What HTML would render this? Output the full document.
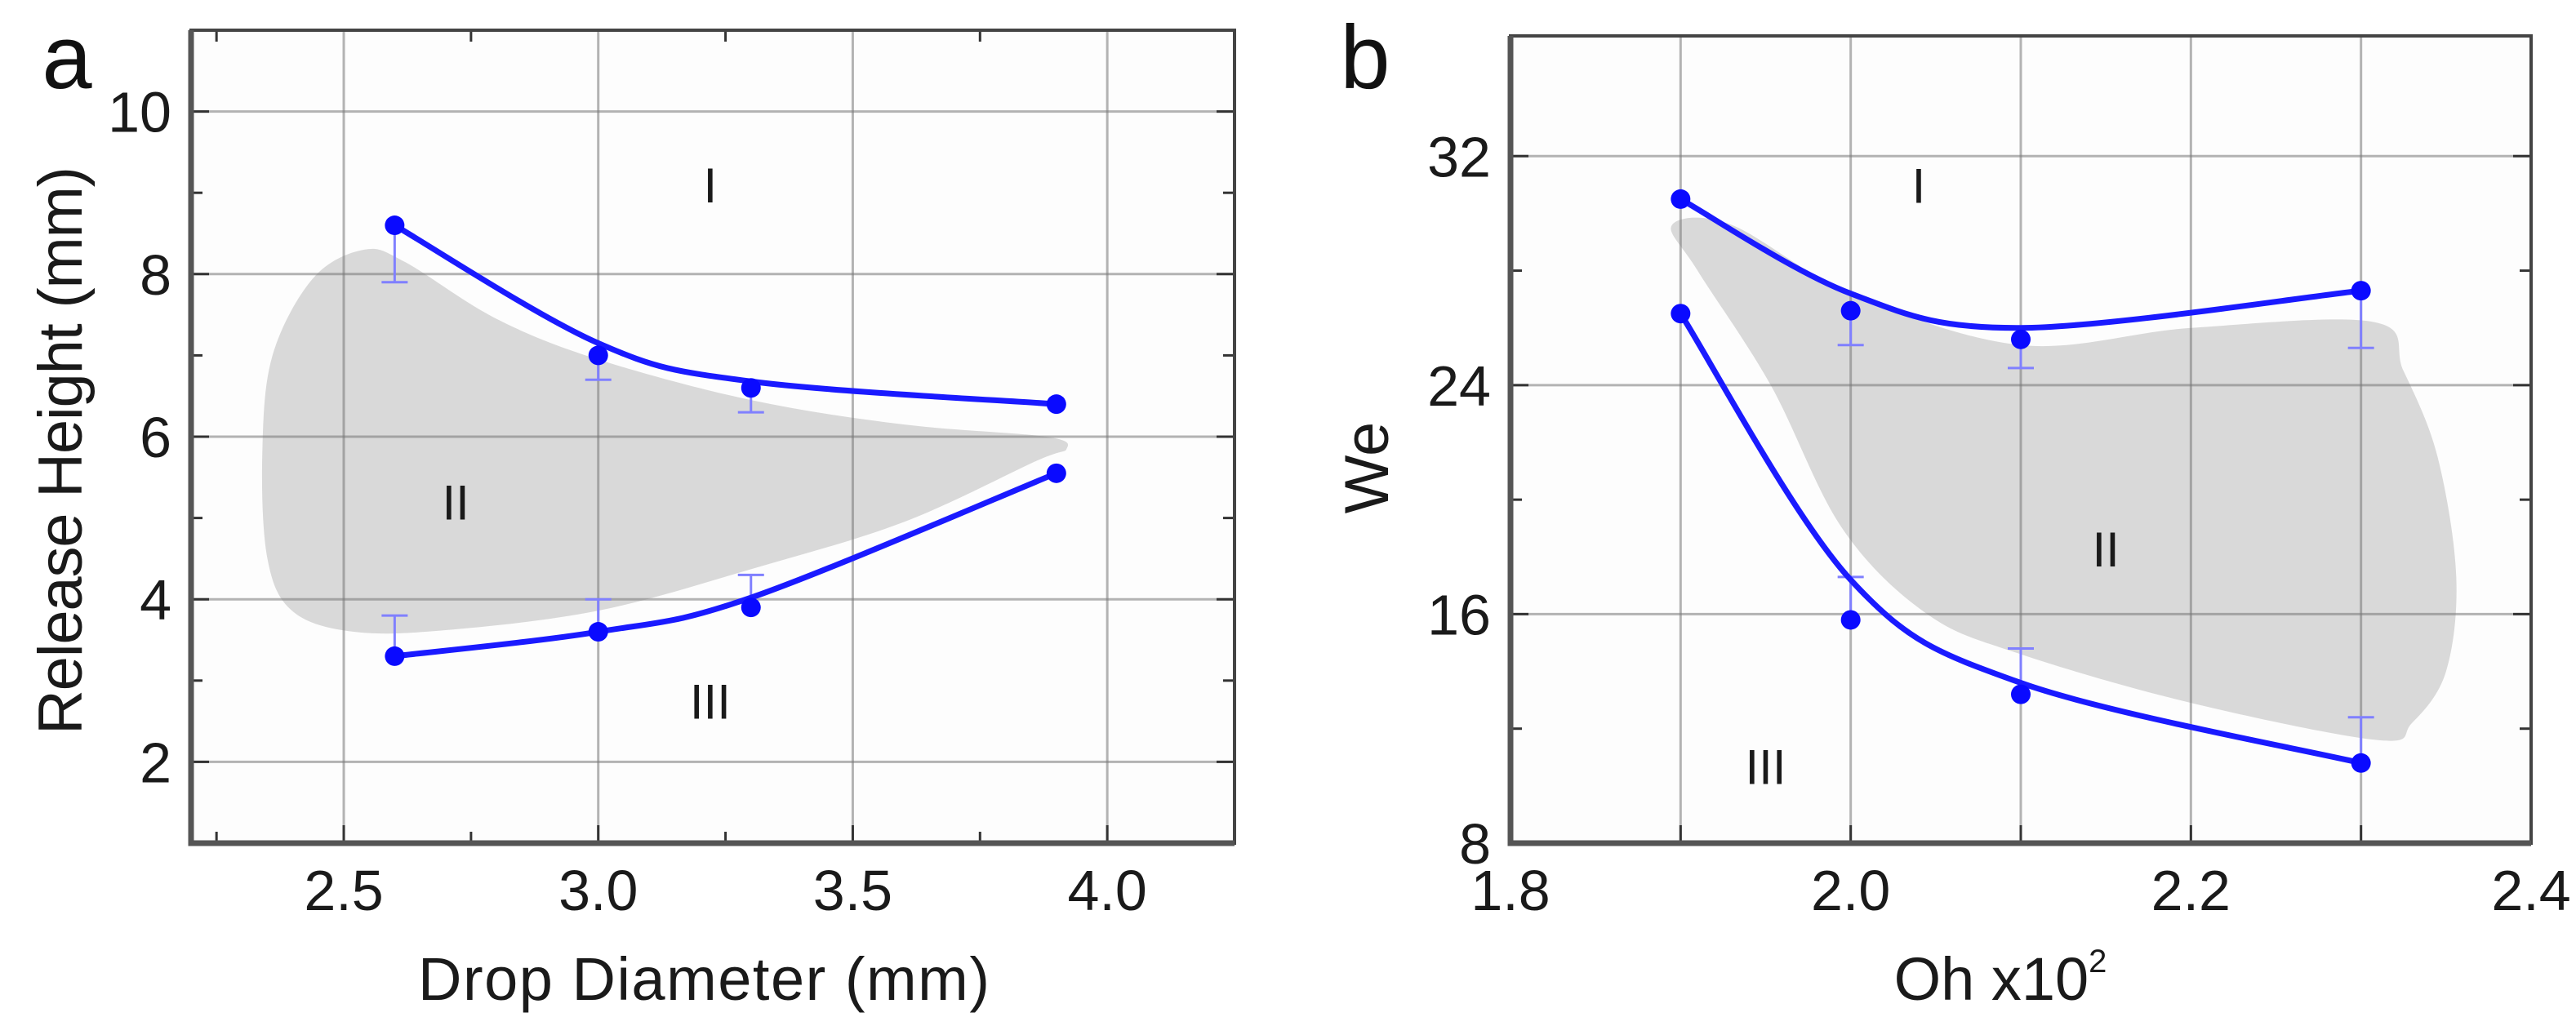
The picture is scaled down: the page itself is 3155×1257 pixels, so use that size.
<!DOCTYPE html>
<html><head><meta charset="utf-8"><style>
html,body{margin:0;padding:0;background:#fff;}
svg{display:block;font-family:"Liberation Sans",Arial,sans-serif;}
</style></head><body>
<svg id="fig" width="3155" height="1257" viewBox="0 0 3155 1257" xmlns="http://www.w3.org/2000/svg">
<g id="pa"></g>
<g id="pb"></g>
</svg>
<script>
// Panel a data
const aXTicks = [2.5, 3.0, 3.5, 4.0];
const aXTickLabels = ["2.5", "3.0", "3.5", "4.0"];
const aYTicks = [2, 4, 6, 8, 10];
const aYTickLabels = ["2", "4", "6", "8", "10"];
const aUpperX = [2.6, 3.0, 3.3, 3.9];
const aUpperY = [8.6, 7.0, 6.6, 6.4];
const aUpperFitY = [8.6, 7.15, 6.68, 6.4];
const aUpperErrLow = [7.9, 6.7, 6.3, 6.4];
const aLowerX = [2.6, 3.0, 3.3, 3.9];
const aLowerY = [3.3, 3.6, 3.9, 5.55];
const aLowerFitY = [3.3, 3.6, 4.02, 5.55];
const aLowerErrHigh = [3.8, 4.0, 4.3, 5.55];
const aRegionX = [2.54, 2.62, 2.8, 3.0, 3.3, 3.6, 3.88, 3.92, 3.86, 3.6, 3.3, 3.0, 2.7, 2.52, 2.4, 2.35, 2.34, 2.36, 2.44];
const aRegionY = [8.3, 8.15, 7.45, 6.95, 6.45, 6.15, 6.0, 5.85, 5.7, 4.95, 4.37, 3.86, 3.62, 3.6, 3.85, 4.5, 5.8, 7.0, 7.95];

// Panel b data
const bXTicks = [1.8, 2.0, 2.2, 2.4];
const bXTickLabels = ["1.8", "2.0", "2.2", "2.4"];
const bYTicks = [8, 16, 24, 32];
const bYTickLabels = ["8", "16", "24", "32"];
const bUpperX = [1.9, 2.0, 2.1, 2.3];
const bUpperY = [30.5, 26.6, 25.6, 27.3];
const bUpperFitY = [30.5, 27.2, 26.0, 27.3];
const bUpperErrLow = [30.5, 25.4, 24.6, 25.3];
const bLowerX = [1.9, 2.0, 2.1, 2.3];
const bLowerY = [26.5, 15.8, 13.2, 10.8];
const bLowerFitY = [26.5, 17.2, 13.6, 10.8];
const bLowerErrHigh = [26.5, 17.3, 14.8, 12.4];
const bRegionX = [1.895, 1.93, 2.0, 2.1, 2.2, 2.308, 2.325, 2.345, 2.356, 2.35, 2.33, 2.31, 2.2, 2.1, 2.045, 1.995, 1.953, 1.91];
const bRegionY = [29.6, 29.6, 27.2, 25.4, 26.0, 26.2, 24.5, 21.5, 17.3, 14.0, 12.2, 11.6, 12.9, 14.6, 16.0, 19.0, 24.0, 28.0];

const NS = "http://www.w3.org/2000/svg";
function mk(parent, tag, attrs, text) {
  const e = document.createElementNS(NS, tag);
  for (const k in attrs) e.setAttribute(k, attrs[k]);
  if (text !== undefined) e.textContent = text;
  parent.appendChild(e);
  return e;
}
function catmull(pts, closed) {
  const n = pts.length;
  let d = "M" + pts[0][0] + "," + pts[0][1];
  const last = closed ? n : n - 1;
  for (let i = 0; i < last; i++) {
    const p0 = pts[closed ? (i - 1 + n) % n : Math.max(i - 1, 0)];
    const p1 = pts[i];
    const p2 = pts[(i + 1) % n];
    const p3 = pts[closed ? (i + 2) % n : Math.min(i + 2, n - 1)];
    const c1 = [p1[0] + (p2[0] - p0[0]) / 6, p1[1] + (p2[1] - p0[1]) / 6];
    const c2 = [p2[0] - (p3[0] - p1[0]) / 6, p2[1] - (p3[1] - p1[1]) / 6];
    d += " C" + c1[0] + "," + c1[1] + " " + c2[0] + "," + c2[1] + " " + p2[0] + "," + p2[1];
  }
  return closed ? d + "Z" : d;
}

function drawPanel(g, cfg) {
  const X = v => cfg.left + (v - cfg.xmin) / (cfg.xmax - cfg.xmin) * (cfg.right - cfg.left);
  const Y = v => cfg.bottom - (v - cfg.ymin) / (cfg.ymax - cfg.ymin) * (cfg.bottom - cfg.top);
  const bg = mk(g, "rect", {x: cfg.left, y: cfg.top, width: cfg.right - cfg.left, height: cfg.bottom - cfg.top, fill: "#fdfdfd"});
  
  
  const rp = cfg.rx.map((v, i) => [X(v), Y(cfg.ry[i])]);
  const reg = mk(g, "path", {d: catmull(rp, true), fill: "#d9d9d9"});
  
  
  cfg.gridX.forEach(v => {
    const l = mk(g, "line", {x1: X(v), x2: X(v), y1: cfg.top, y2: cfg.bottom, stroke: "#777", "stroke-opacity": 0.55, "stroke-width": 3});
    
    
  });
  cfg.gridY.forEach(v => {
    const l = mk(g, "line", {x1: cfg.left, x2: cfg.right, y1: Y(v), y2: Y(v), stroke: "#777", "stroke-opacity": 0.55, "stroke-width": 3});
    
    
  });
  cfg.gridX.forEach(v => {
    mk(g, "line", {x1: X(v), x2: X(v), y1: cfg.bottom, y2: cfg.bottom - 22, stroke: "#333", "stroke-width": 3});
  });
  cfg.gridY.forEach(v => {
    mk(g, "line", {x1: cfg.left, x2: cfg.left + 22, y1: Y(v), y2: Y(v), stroke: "#333", "stroke-width": 3});
    mk(g, "line", {x1: cfg.right, x2: cfg.right - 22, y1: Y(v), y2: Y(v), stroke: "#333", "stroke-width": 3});
  });
  cfg.minorX.forEach(v => {
    mk(g, "line", {x1: X(v), x2: X(v), y1: cfg.bottom, y2: cfg.bottom - 14, stroke: "#333", "stroke-width": 3});
    mk(g, "line", {x1: X(v), x2: X(v), y1: cfg.top, y2: cfg.top + 14, stroke: "#333", "stroke-width": 3});
  });
  cfg.minorY.forEach(v => {
    mk(g, "line", {x1: cfg.left, x2: cfg.left + 14, y1: Y(v), y2: Y(v), stroke: "#333", "stroke-width": 3});
    mk(g, "line", {x1: cfg.right, x2: cfg.right - 14, y1: Y(v), y2: Y(v), stroke: "#333", "stroke-width": 3});
  });
  const fr = mk(g, "rect", {x: cfg.left, y: cfg.top, width: cfg.right - cfg.left, height: cfg.bottom - cfg.top, fill: "none", stroke: "#444", "stroke-width": 4});
  
  
  mk(g, "path", {d: "M" + cfg.left + "," + cfg.top + " V" + cfg.bottom + " H" + cfg.right, stroke: "#555", "stroke-width": 7, fill: "none"});
  cfg.xt.forEach((v, i) => {
    const t = mk(g, "text", {x: X(v), y: cfg.bottom + 82, "font-size": 70, "text-anchor": "middle", fill: "#1a1a1a"}, cfg.xtl[i]);
    
    
  });
  cfg.yt.forEach((v, i) => {
    const t = mk(g, "text", {x: cfg.left - 24, y: Y(v) + 25, "font-size": 70, "text-anchor": "end", fill: "#1a1a1a"}, cfg.ytl[i]);
    
    
  });
  [[cfg.ux, cfg.uy, cfg.ue, cfg.uf, 'upper'], [cfg.lx, cfg.ly, cfg.le, cfg.lf, 'lower']].forEach(s => {
    s[0].forEach((v, i) => {
      if (s[2][i] !== s[1][i]) {
        const e = mk(g, "path", {d: "M" + X(v) + "," + Y(s[1][i]) + " V" + Y(s[2][i]) + " M" + (X(v) - 16) + "," + Y(s[2][i]) + " H" + (X(v) + 16), stroke: "#8080ff", "stroke-width": 3, fill: "none"});
        
        
      }
    });
    const fp = s[0].map((v, i) => [X(v), Y(s[3][i])]);
    const ln = mk(g, "path", {d: catmull(fp, false), stroke: "#1a1aff", "stroke-width": 7, fill: "none"});
    
    
    s[0].forEach((v, i) => {
      const c = mk(g, "circle", {cx: X(v), cy: Y(s[1][i]), r: 12, fill: "#0a0aff"});
      
      
    });
  });
  cfg.labels.forEach(L => {
    const t = mk(g, "text", {x: X(L[1]), y: Y(L[2]) + 22, "font-size": 60, "text-anchor": "middle", fill: "#1a1a1a"}, L[0]);
    
    
  });
  const xt = mk(g, "text", {x: cfg.xtx, y: 1225, "font-size": 74, "text-anchor": "middle", fill: "#1a1a1a"}, cfg.xtitle);
  
  
  if (cfg.xlen) xt.setAttribute("textLength", cfg.xlen);
  if (cfg.sup) {
    mk(xt, "tspan", {"font-size": 40, dy: -34}, "2");
  }
  const yt = mk(g, "text", {x: 0, y: 0, "font-size": 76, "text-anchor": "middle", fill: "#1a1a1a", transform: "translate(" + cfg.ytx + "," + cfg.yty + ") rotate(-90)"}, cfg.ytitle);
  
  
  if (cfg.ylen) yt.setAttribute("textLength", cfg.ylen);
  const pl = mk(g, "text", {x: cfg.lblx, y: 108, "font-size": 110, "text-anchor": "middle", fill: "#111"}, cfg.panel);
  
  
}

drawPanel(document.getElementById("pa"), {
  left: 234, right: 1512, top: 37, bottom: 1033, xmin: 2.2, xmax: 4.25, ymin: 1, ymax: 11,
  gridX: [2.5, 3.0, 3.5, 4.0], gridY: [2, 4, 6, 8, 10],
  minorX: [2.25, 2.75, 3.25, 3.75], minorY: [3, 5, 7, 9],
  xt: aXTicks, xtl: aXTickLabels, yt: aYTicks, ytl: aYTickLabels,
  ux: aUpperX, uy: aUpperY, uf: aUpperFitY, ue: aUpperErrLow, lx: aLowerX, ly: aLowerY, lf: aLowerFitY, le: aLowerErrHigh,
  rx: aRegionX, ry: aRegionY,
  labels: [["I", 3.22, 9.1], ["II", 2.72, 5.2], ["III", 3.22, 2.75]],
  xtitle: "Drop Diameter (mm)", xtx: 862, xlen: 700, ytitle: "Release Height (mm)", ytx: 100, yty: 552, ylen: 696,
  panel: "a", lblx: 82
});
drawPanel(document.getElementById("pb"), {
  left: 1850, right: 3100, top: 44, bottom: 1033, xmin: 1.8, xmax: 2.4, ymin: 8, ymax: 36.2,
  gridX: [1.9, 2.0, 2.1, 2.2, 2.3], gridY: [16, 24, 32],
  minorX: [], minorY: [12, 20, 28],
  xt: bXTicks, xtl: bXTickLabels, yt: bYTicks, ytl: bYTickLabels,
  ux: bUpperX, uy: bUpperY, uf: bUpperFitY, ue: bUpperErrLow, lx: bLowerX, ly: bLowerY, lf: bLowerFitY, le: bLowerErrHigh,
  rx: bRegionX, ry: bRegionY,
  labels: [["I", 2.04, 31.0], ["II", 2.15, 18.3], ["III", 1.95, 10.7]],
  xtitle: "Oh x10", xtx: 2450, ytitle: "We", ytx: 1700, yty: 573, sup: true,
  panel: "b", lblx: 1672
});
</script>
</body></html>
